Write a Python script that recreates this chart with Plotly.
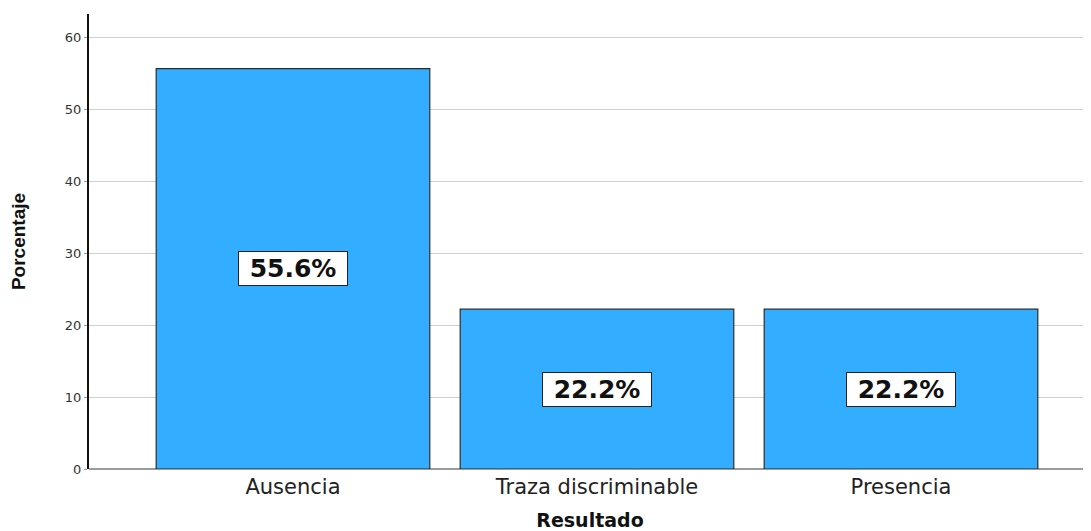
import plotly.graph_objects as go

categories = ["Ausencia", "Traza discriminable", "Presencia"]
values = [55.6, 22.2, 22.2]
labels = ["55.6%", "22.2%", "22.2%"]
y_ticks = [0, 10, 20, 30, 40, 50, 60]

fig = go.Figure()
fig.add_trace(go.Bar(
    x=categories, y=values, width=0.9,
    marker=dict(color="#33ADFF", line=dict(color="#2b2b2b", width=1.2)),
    hoverinfo="skip", showlegend=False,
))

for c, v, t in zip(categories, values, labels):
    fig.add_annotation(
        x=c, y=v / 2, text="<b>" + t + "</b>", showarrow=False,
        font=dict(family="DejaVu Sans", size=25, color="#111111"),
        bgcolor="white", bordercolor="#222222", borderwidth=1, borderpad=2,
        width=104, height=29,
    )

fig.update_layout(
    width=1083, height=523,
    margin=dict(l=81, r=0, t=6, b=62),
    paper_bgcolor="white", plot_bgcolor="white",
    bargap=0.1,
)
fig.update_xaxes(
    range=[-0.671, 2.625], automargin=False,
    showline=False, showgrid=False, ticks="",
    ticklabelstandoff=3,
    tickfont=dict(family="DejaVu Sans", size=21, color="#222222"),
    title=dict(text="<b>Resultado</b>", standoff=20,
               font=dict(family="DejaVu Sans", size=19, color="#111111")),
)
fig.update_yaxes(
    range=[0, 63.2], tickvals=y_ticks, automargin=False,
    showline=True, linecolor="#111111", linewidth=2,
    showgrid=True, gridcolor="#cfcfcf", gridwidth=1,
    zeroline=True, zerolinecolor="#9a9a9a", zerolinewidth=1.5,
    ticks="outside", ticklen=3, tickcolor="#9a9a9a",
    tickfont=dict(family="DejaVu Sans", size=13, color="#333333"),
    title=dict(text="<b>Porcentaje</b>", standoff=34,
               font=dict(family="Liberation Sans Narrow, Liberation Sans", size=19, color="#111111")),
)

fig.write_html("out.html")
